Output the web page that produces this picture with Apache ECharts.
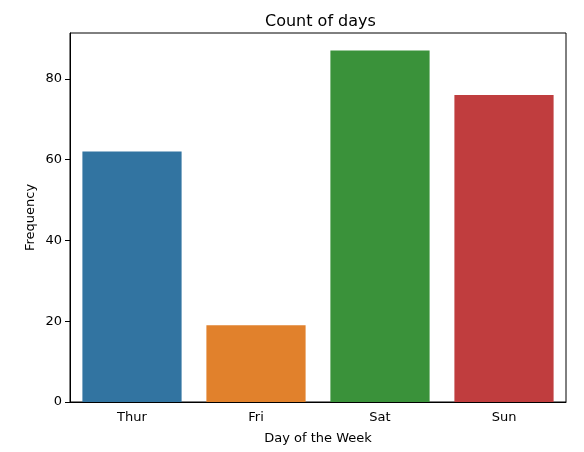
<!DOCTYPE html>
<html><head><meta charset="utf-8">
<script src="https://cdn.jsdelivr.net/npm/echarts@6/dist/echarts.min.js"></script>
<style>html,body{margin:0;padding:0;background:#fff}#c{width:584px;height:452px}</style>
</head><body><div id="c"></div>
<script>
const categories = ["Thur", "Fri", "Sat", "Sun"];
const counts = [62, 19, 87, 76];
const colors = ["#3274a1", "#e1812c", "#3a923a", "#c03d3e"];
const yTicks = [0, 20, 40, 60, 80];

const chart = echarts.init(document.getElementById('c'));
const font = 'DejaVu Sans';
chart.setOption({
  animation: false,
  title: { text: 'Count of days', left: 260, top: 9,
    textStyle: { fontFamily: font, fontSize: 16, fontWeight: 'normal', color: '#000' } },
  grid: { left: 70, right: 18, top: 33, bottom: 50, show: true, borderColor: '#000', borderWidth: 1, backgroundColor: 'transparent' },
  xAxis: {
    type: 'category', data: categories,
    name: 'Day of the Week', nameLocation: 'middle', nameGap: 30,
    nameTextStyle: { fontFamily: font, fontSize: 13, color: '#000' },
    axisLine: { lineStyle: { color: '#000', width: 1 } },
    axisTick: { alignWithLabel: true, length: 5, lineStyle: { color: '#000' } },
    axisLabel: { fontFamily: font, fontSize: 13, color: '#000', margin: 9 }
  },
  yAxis: {
    type: 'value', min: 0, max: 91.35,
    name: 'Frequency', nameLocation: 'middle', nameGap: 33, nameMoveOverlap: false,
    nameTextStyle: { fontFamily: font, fontSize: 13, color: '#000' },
    axisLine: { show: true, lineStyle: { color: '#000', width: 1 } },
    axisTick: { show: true, length: 5, lineStyle: { color: '#000' }, customValues: yTicks },
    splitLine: { show: false },
    axisLabel: { fontFamily: font, fontSize: 13, color: '#000', margin: 8, customValues: yTicks }
  },
  series: [{
    type: 'bar', barWidth: '80%',
    data: counts.map((v, i) => ({ value: v, itemStyle: { color: colors[i] } }))
  }]
});
</script></body></html>
